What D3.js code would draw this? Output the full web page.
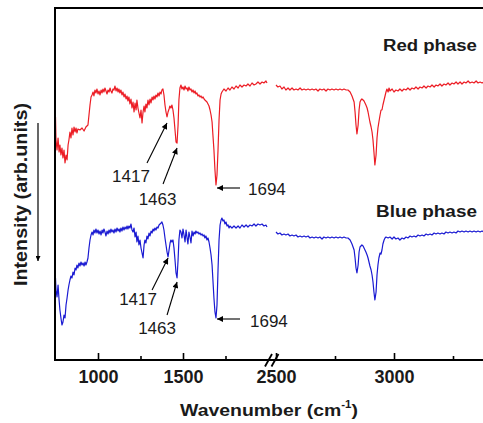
<!DOCTYPE html>
<html><head><meta charset="utf-8">
<script src="https://cdn.jsdelivr.net/npm/d3@7"></script>
<style>html,body{margin:0;padding:0;background:#fff;} svg{display:block;}</style>
</head><body><svg id="c" width="483" height="423"></svg>
<script>
// ---- data: [wavenumber (cm-1), intensity (arb. units)] ----
const redLeft = [[750,60.75],[753,55],[759,52.5],[765,55.5],[771,52],[776,53.75],[782,51.25],[788,53],[794,50.5],[800,52.5],[806,49.25],[812,51.25],[818,50],[824,53.75],[829,55],[835,57],[841,55.5],[847,58],[853,56.25],[859,58.25],[865,57],[871,58],[876,56.75],[882,57.75],[894,57.5],[906,58],[918,57.25],[929,58.25],[941,58.75],[947,61.25],[953,63.75],[959,65.75],[965,66.25],[971,67],[976,66],[982,67.5],[988,66.75],[994,67.75],[1000,66.5],[1006,67.25],[1012,66.25],[1018,67.5],[1024,66.75],[1029,67.75],[1035,67],[1041,68],[1047,67.25],[1053,66.5],[1059,67.5],[1065,67],[1071,68],[1076,67.25],[1082,66.75],[1088,67.75],[1094,67.5],[1100,68.5],[1106,67.25],[1112,68],[1118,67],[1123,67.75],[1129,66.75],[1135,67.5],[1141,66.25],[1147,67],[1153,65.75],[1159,66.5],[1165,65.25],[1171,66],[1176,64.75],[1182,65.75],[1188,64],[1194,65.25],[1200,63],[1206,64.5],[1212,62],[1218,64.25],[1224,62.5],[1229,65],[1235,63],[1241,61.75],[1247,60.5],[1253,62.5],[1259,59.25],[1265,62],[1271,63.5],[1276,62],[1282,64],[1288,63],[1294,65],[1300,63.75],[1306,65.25],[1312,64.25],[1318,65.75],[1324,65],[1329,66],[1335,65.25],[1341,66.25],[1347,65.75],[1353,66.75],[1359,66],[1365,67],[1371,66.5],[1376,67.5],[1382,67.75],[1388,66.25],[1394,63.75],[1400,62],[1406,60.75],[1412,62],[1418,62.75],[1423,63.5],[1429,63],[1435,63.75],[1441,62.5],[1447,60.5],[1453,57.5],[1459,54.5],[1465,54.25],[1471,58.75],[1476,65],[1482,68],[1488,68.75],[1494,67.75],[1500,68.25],[1506,67.5],[1512,68.5],[1518,67.75],[1524,68],[1529,67.25],[1535,68.25],[1541,67.5],[1547,67.75],[1553,67],[1559,67.5],[1565,66.75],[1571,67.25],[1576,66.5],[1582,66.75],[1588,66],[1594,66.25],[1600,65.75],[1606,66],[1612,65.5],[1618,65.75],[1624,65.25],[1629,65],[1635,64.75],[1641,64.5],[1647,64],[1653,63.5],[1659,62.5],[1665,61.25],[1671,59.5],[1676,56.25],[1682,52.5],[1688,47.5],[1694,43.75],[1700,46.25],[1706,52.5],[1712,60],[1718,65],[1724,66.5],[1729,67],[1741,67.75],[1753,67.25],[1765,68],[1776,67.5],[1788,68.25],[1800,67.75],[1812,68.5],[1824,68],[1835,68.75],[1847,68.25],[1859,68.75],[1871,68.5],[1882,69],[1894,68.5],[1906,69.25],[1918,68.75],[1929,69],[1941,69.5],[1953,69],[1965,69.5],[1976,69.25],[1988,69.75],[1994,69.25]];

const redRight = [[2500,68.75],[2508,68.25],[2517,68.5],[2525,67.75],[2534,68.25],[2542,67.5],[2551,68],[2559,67.5],[2568,68],[2576,67.5],[2585,67.75],[2593,67.5],[2602,68],[2610,67.5],[2619,67.75],[2627,67.5],[2636,67.75],[2644,67.5],[2653,67.75],[2661,67.5],[2669,67.75],[2678,67.25],[2686,67.75],[2695,67.5],[2703,67.75],[2712,67.25],[2720,67.75],[2729,67.5],[2737,67.75],[2746,67.5],[2754,67.75],[2763,67.5],[2771,67.75],[2780,67.5],[2788,67.75],[2797,67.5],[2805,67.5],[2814,67],[2822,66],[2831,64.5],[2835,62],[2839,58.75],[2843,56.5],[2848,58.75],[2852,62.5],[2856,64.5],[2860,65],[2864,65.25],[2869,65],[2873,64.75],[2877,64.25],[2881,63.75],[2886,63],[2890,62],[2894,60.75],[2898,59.5],[2903,58.25],[2907,57],[2911,55],[2915,52],[2919,48.75],[2924,51.25],[2928,55.5],[2932,58],[2936,59.5],[2941,61.25],[2945,62.5],[2949,62.5],[2953,63.75],[2958,65],[2962,66],[2966,67],[2970,67.75],[2975,67],[2979,68],[2983,67.25],[2992,67.75],[3000,67],[3008,67.5],[3017,67.25],[3025,67.75],[3034,67.25],[3042,67.75],[3051,67.5],[3059,68],[3068,67.5],[3076,68],[3085,67.75],[3093,68.25],[3102,67.75],[3110,68.25],[3119,68],[3127,68.5],[3136,68],[3144,68.5],[3153,68.25],[3161,68.75],[3170,68.25],[3178,68.75],[3186,68.5],[3195,69],[3203,68.5],[3212,69],[3220,68.75],[3229,69.25],[3237,68.75],[3246,69.25],[3254,69],[3263,69.5],[3271,69],[3280,69.5],[3288,69],[3297,69.5],[3305,69.25],[3314,69.75],[3322,69.25],[3331,69.5],[3339,69.25],[3348,69.75],[3356,69.25],[3365,69.5],[3373,69.25],[3381,69.5]];

const blueLeft = [[750,20.5],[753,17.5],[759,15.75],[765,18.75],[771,15],[776,12.5],[782,10.5],[788,8.75],[794,9.5],[800,11.25],[806,10.5],[812,13.75],[818,15.5],[824,17.5],[829,18.75],[835,20],[841,21],[847,20.5],[853,22],[859,21.25],[865,23],[871,22.5],[876,23.75],[882,23],[888,24.25],[894,23.5],[900,24.5],[906,23.75],[912,24.25],[918,23.5],[924,24.5],[929,23.75],[935,24.5],[941,25.5],[947,28],[953,30],[959,31.25],[965,32],[971,31.25],[976,32.5],[982,31.75],[988,32.75],[994,31.75],[1000,32.5],[1006,31.5],[1012,32.25],[1018,31.25],[1024,32.5],[1029,31.75],[1035,32.75],[1041,32],[1047,31],[1053,32.25],[1059,31.5],[1065,32.5],[1071,31.75],[1076,32.75],[1082,32],[1088,32.5],[1094,31.75],[1100,32.75],[1106,32],[1112,33],[1118,32.25],[1124,32.75],[1129,32],[1135,33],[1141,32.25],[1147,33.25],[1153,32.5],[1159,33.25],[1165,32.75],[1171,33.5],[1176,32.75],[1182,33.5],[1188,33],[1194,34],[1200,32.5],[1206,32],[1212,33],[1218,30.75],[1224,32],[1229,29.5],[1235,31],[1241,28.75],[1247,30],[1253,28],[1259,26.75],[1265,25.5],[1271,28.75],[1276,30],[1282,29.25],[1288,31],[1294,30.25],[1300,31.75],[1306,31],[1312,32.25],[1318,31.75],[1324,32.75],[1329,32.25],[1335,33],[1341,32.5],[1347,33.25],[1353,33],[1359,33.75],[1365,34],[1371,34.25],[1376,34.5],[1382,33.75],[1388,32.5],[1394,30.5],[1400,28.75],[1406,27],[1412,25.75],[1418,27.5],[1424,29.25],[1429,30],[1435,29.5],[1441,30],[1447,28],[1453,25],[1459,21.75],[1465,20.5],[1471,25],[1476,30],[1482,32.5],[1488,32],[1494,30.5],[1500,32.75],[1506,31.25],[1512,29.5],[1518,32.5],[1524,30.5],[1529,29],[1535,32],[1541,30.75],[1547,29.25],[1553,32.25],[1559,31],[1565,32],[1571,31.5],[1576,32.25],[1582,31.75],[1588,32],[1594,31.5],[1600,31.75],[1606,31.25],[1612,31.5],[1618,31],[1624,31.25],[1629,30.5],[1635,31],[1641,30],[1647,30.5],[1653,29.5],[1659,28],[1665,26.25],[1671,23.75],[1676,20],[1682,15.5],[1688,12],[1694,10.5],[1700,13.75],[1706,22.5],[1712,30],[1718,33.75],[1724,35],[1729,35.5],[1735,34.75],[1741,35],[1747,34],[1753,34.5],[1759,33.5],[1765,33.75],[1771,33],[1776,33.5],[1788,33],[1800,33.5],[1812,33],[1824,33.5],[1835,33],[1847,33.75],[1859,33.25],[1871,33.75],[1882,33.25],[1894,33.75],[1906,33.5],[1918,34],[1929,33.5],[1941,34],[1953,33.75],[1965,34],[1976,33.5],[1988,33.75],[1994,33.25]];

const blueRight = [[2500,32],[2508,31.5],[2517,31.75],[2525,31.25],[2534,31.5],[2542,31.25],[2551,31.5],[2559,31],[2568,31.25],[2576,31],[2585,31.25],[2593,30.75],[2602,31],[2610,30.75],[2619,31],[2627,30.75],[2636,31],[2644,30.5],[2653,30.75],[2661,30.5],[2669,30.75],[2678,30.5],[2686,30.75],[2695,30.25],[2703,30.75],[2712,30.5],[2720,30.75],[2729,30.5],[2737,30.75],[2746,30.5],[2754,30.75],[2763,30.5],[2771,30.75],[2780,30.5],[2788,30.75],[2797,30.5],[2805,30.5],[2814,30],[2822,29],[2831,27.5],[2835,25.5],[2839,23],[2843,21.75],[2848,23.75],[2852,27],[2856,28.25],[2860,28.5],[2864,28.75],[2869,28.5],[2873,28],[2877,27.5],[2881,27],[2886,26.25],[2890,25.5],[2894,24.5],[2898,23.5],[2903,22.5],[2907,21.25],[2911,19.5],[2915,17],[2919,15],[2924,17],[2928,21.25],[2932,23.75],[2936,25.5],[2941,26.75],[2945,26.5],[2949,27.5],[2953,29],[2958,30],[2962,30.5],[2966,30.75],[2975,30.5],[2983,30.75],[2992,30.25],[3000,30.75],[3008,30.25],[3017,30.5],[3025,30],[3034,30.5],[3042,30.25],[3051,30.75],[3059,30.5],[3068,31],[3076,30.75],[3085,31],[3093,30.75],[3102,31.25],[3110,31],[3119,31.25],[3127,31],[3136,31.5],[3144,31.25],[3153,31.5],[3161,31.25],[3170,31.75],[3178,31.5],[3186,31.75],[3195,31.5],[3203,31.75],[3212,31.5],[3220,32],[3229,31.75],[3237,32],[3246,31.75],[3254,32],[3263,31.75],[3271,32.25],[3280,32],[3288,32.25],[3297,32],[3305,32.25],[3314,32],[3322,32.25],[3331,32],[3339,32.25],[3348,32],[3356,32.25],[3365,32],[3373,32.25],[3381,32]];

const majorTicksLeft = [1000, 1500];
const minorTicksLeft = [1250, 1750];
const majorTicksRight = [2500, 3000];
const minorTicksRight = [2750, 3250];

const phaseLabels = ["Red phase", "Blue phase"];
// annotation: label, arrow tip [wavenumber, intensity]
const redPeaks  = [["1417",1406,59.25],["1463",1465,53],["1694",1700,43]];
const bluePeaks = [["1417",1412,25.5],["1463",1465,19.5],["1694",1700,10.25]];

// ---- chart ----
const svg = d3.select('#c');
svg.append('rect').attr('width',483).attr('height',423).attr('fill','#fff');

const xL = d3.scaleLinear().domain([750,2000]).range([55.5,268]);
const xR = d3.scaleLinear().domain([2500,3400]).range([276,488.4]);
const y  = d3.scaleLinear().domain([0,88]).range([360,8]);

const RED = '#ec1c24', BLUE = '#1a1ad2';
const FONT = 'Arial, "Liberation Sans", sans-serif';

const defs = svg.append('defs');
defs.append('marker').attr('id','ah').attr('viewBox','0 0 10 10')
  .attr('refX',10).attr('refY',5).attr('markerWidth',7).attr('markerHeight',6)
  .attr('markerUnits','userSpaceOnUse').attr('orient','auto')
  .append('path').attr('d','M0,0 L10,5 L0,10 z').attr('fill','#000');
defs.append('marker').attr('id','ahY').attr('viewBox','0 0 10 10')
  .attr('refX',10).attr('refY',5).attr('markerWidth',9).attr('markerHeight',5)
  .attr('markerUnits','userSpaceOnUse').attr('orient','auto')
  .append('path').attr('d','M0,0 L10,5 L0,10 z').attr('fill','#000');

const lineL = d3.line().x(d=>xL(d[0])).y(d=>y(d[1]));
const lineR = d3.line().x(d=>xR(d[0])).y(d=>y(d[1]));

[[redLeft,lineL,RED],[redRight,lineR,RED],[blueLeft,lineL,BLUE],[blueRight,lineR,BLUE]]
  .forEach(([data,ln,col])=>{
    svg.append('path').datum(data).attr('d',ln).attr('fill','none')
      .attr('stroke',col).attr('stroke-width',1.2).attr('stroke-linejoin','round');
  });

// frame
const frame = svg.append('g').attr('stroke','#000').attr('stroke-width',2).attr('fill','none');
frame.append('line').attr('x1',55).attr('x2',55).attr('y1',7).attr('y2',361);
frame.append('line').attr('x1',54).attr('x2',483).attr('y1',8).attr('y2',8);
frame.append('line').attr('x1',54).attr('x2',483).attr('y1',360).attr('y2',360);

// axes
function styleAxis(g){
  g.select('.domain').remove();
  g.selectAll('.tick line').attr('stroke','#000').attr('stroke-width',1.6);
  g.selectAll('.tick text').attr('font-family',FONT).attr('font-weight','bold')
    .attr('font-size',18).attr('fill','#1a1a1a');
}
[[xL,majorTicksLeft,minorTicksLeft],[xR,majorTicksRight,minorTicksRight]].forEach(([sc,maj,mn])=>{
  svg.append('g').attr('transform','translate(0,360)')
    .call(d3.axisBottom(sc).tickValues(mn).tickSizeInner(-4).tickSizeOuter(0).tickFormat(''))
    .call(styleAxis);
  svg.append('g').attr('transform','translate(0,360)')
    .call(d3.axisBottom(sc).tickValues(maj).tickSizeInner(-7).tickSizeOuter(0).tickPadding(10).tickFormat(d3.format('d')))
    .call(styleAxis);
});

// axis break marks
const bx = (xL(2000)+xR(2500))/2;
const brk = svg.append('g').attr('stroke','#000').attr('stroke-width',1.8);
[-3.5, 3].forEach(o=>{
  brk.append('line').attr('x1',bx+o-3.5).attr('y1',366.5).attr('x2',bx+o+3.5).attr('y2',354);
});

// helper for horizontally stretched text
function stretched(parent, x, yb, size, weight, targetW, anchor, build){
  const g = parent.append('g');
  const t = g.append('text').attr('font-family',FONT).attr('font-size',size)
    .attr('font-weight',weight).attr('fill','#1a1a1a').attr('text-anchor',anchor);
  build(t);
  const w = t.node().getComputedTextLength();
  g.attr('transform',`translate(${x},${yb}) scale(${targetW/w},1)`);
  return g;
}

// phase labels
stretched(svg, 383, 51, 16, 'bold', 94, 'start', t=>t.text(phaseLabels[0]));
stretched(svg, 376, 217, 16, 'bold', 101, 'start', t=>t.text(phaseLabels[1]));

// x title
stretched(svg, 269, 416, 17, 'bold', 178, 'middle', t=>{
  t.append('tspan').text('Wavenumber (cm');
  t.append('tspan').attr('font-size',10).attr('dy',-8).text('-1');
  t.append('tspan').attr('dy',8).text(')');
});

// y title (rotated)
(function(){
  const g = svg.append('g');
  const t = g.append('text').attr('font-family',FONT).attr('font-size',19)
    .attr('font-weight','bold').attr('fill','#1a1a1a').attr('text-anchor','middle')
    .text('Intensity (arb.units)');
  const w = t.node().getComputedTextLength();
  g.attr('transform',`translate(27,194.5) rotate(-90) scale(${183/w},1)`);
})();
svg.append('line').attr('x1',38).attr('x2',38).attr('y1',123).attr('y2',261)
  .attr('stroke','#000').attr('stroke-width',1.2).attr('marker-end','url(#ahY)');

// peak annotations
const layouts = {
  red:  [{tail:[-20,40], txt:[-36,59], anchor:'middle'}, {tail:[-14,36], txt:[-19.5,57], anchor:'middle'}, {tail:[23,0], txt:[31,7], anchor:'start'}],
  blue: [{tail:[-16,32], txt:[-30,47], anchor:'middle'}, {tail:[-10,33], txt:[-20,52], anchor:'middle'}, {tail:[23,0], txt:[33,8], anchor:'start'}]
};
[[redPeaks,'red'],[bluePeaks,'blue']].forEach(([peaks,key])=>{
  peaks.forEach((p,i)=>{
    const L = layouts[key][i];
    const tx = xL(p[1]), ty = y(p[2]);
    svg.append('line').attr('x1',tx+L.tail[0]).attr('y1',ty+L.tail[1]).attr('x2',tx).attr('y2',ty)
      .attr('stroke','#000').attr('stroke-width',1.1).attr('marker-end','url(#ah)');
    svg.append('text').attr('x',tx+L.txt[0]).attr('y',ty+L.txt[1])
      .attr('text-anchor',L.anchor).attr('font-family',FONT).attr('font-size',17)
      .attr('fill','#1a1a1a').text(p[0]);
  });
});
</script>
</body></html>
